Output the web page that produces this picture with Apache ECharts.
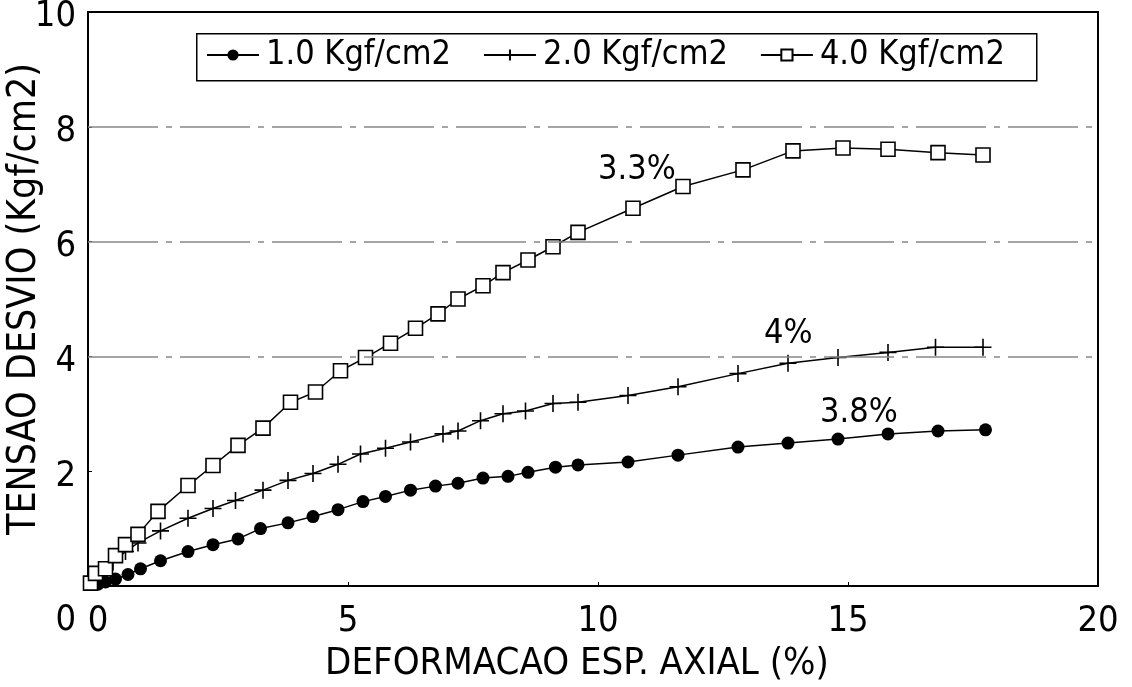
<!DOCTYPE html>
<html>
<head>
<meta charset="utf-8">
<script src="https://cdn.jsdelivr.net/npm/echarts@6/dist/echarts.min.js"></script>
<style>
  html, body { margin: 0; padding: 0; background: #fff; }
  #chart { width: 1132px; height: 687px; }
</style>
</head>
<body>
<div id="chart"></div>
<script>
// deformacao especifica axial (%) x tensao desvio (kgf/cm2)
var names = ['1.0 Kgf/cm2', '2.0 Kgf/cm2', '4.0 Kgf/cm2'];

var strain1 = [0.0, 0.15, 0.35, 0.6, 0.85, 1.25, 1.8, 2.3, 2.8, 3.25, 3.8, 4.3, 4.8, 5.3, 5.75, 6.25, 6.75, 7.2, 7.7, 8.2, 8.6, 9.15, 9.6, 10.6, 11.6, 12.8, 13.8, 14.8, 15.8, 16.8, 17.75];
var stress1 = [0.03, 0.07, 0.12, 0.2, 0.3, 0.44, 0.6, 0.72, 0.82, 1.0, 1.1, 1.21, 1.33, 1.47, 1.56, 1.67, 1.74, 1.79, 1.88, 1.91, 1.98, 2.07, 2.11, 2.16, 2.28, 2.42, 2.49, 2.56, 2.65, 2.7, 2.72];

var strain2 = [0.0, 0.1, 0.3, 0.55, 0.8, 1.25, 1.8, 2.3, 2.75, 3.3, 3.8, 4.3, 4.8, 5.25, 5.75, 6.25, 6.9, 7.2, 7.65, 8.1, 8.55, 9.1, 9.6, 10.6, 11.6, 12.8, 13.8, 14.8, 15.8, 16.75, 17.7];
var stress2 = [0.1, 0.25, 0.42, 0.6, 0.75, 0.96, 1.18, 1.35, 1.49, 1.67, 1.84, 1.96, 2.12, 2.3, 2.4, 2.51, 2.65, 2.7, 2.88, 3.0, 3.05, 3.18, 3.2, 3.32, 3.47, 3.7, 3.88, 3.98, 4.07, 4.16, 4.16];

var strain4 = [-0.15, -0.05, 0.15, 0.35, 0.55, 0.8, 1.2, 1.8, 2.3, 2.8, 3.3, 3.85, 4.35, 4.85, 5.35, 5.85, 6.35, 6.8, 7.2, 7.7, 8.1, 8.6, 9.1, 9.6, 10.7, 11.7, 12.9, 13.9, 14.9, 15.8, 16.8, 17.7];
var stress4 = [0.05, 0.22, 0.3, 0.53, 0.72, 0.9, 1.3, 1.75, 2.1, 2.45, 2.75, 3.2, 3.38, 3.75, 3.98, 4.23, 4.49, 4.74, 5.0, 5.23, 5.46, 5.68, 5.91, 6.16, 6.58, 6.96, 7.25, 7.58, 7.63, 7.61, 7.55, 7.51];

var xTicks = [0, 5, 10, 15, 20];
var refLines = [4, 6, 8];

var FONT = '"Liberation Sans Narrow", "DejaVu Sans Condensed", "DejaVu Sans", sans-serif';

function pairs(xs, ys) {
    var out = [];
    for (var i = 0; i < xs.length; i++) {
        out.push([xs[i], ys[i]]);
    }
    return out;
}

var chart = echarts.init(document.getElementById('chart'));

var option = {
    backgroundColor: '#fff',
    animation: false,
    grid: {
        left: 88, right: 34, top: 12, bottom: 101,
        outerBoundsMode: 'none',
        containLabel: false,
        show: true,
        borderColor: '#000',
        borderWidth: 2
    },
    legend: {
        data: names,
        left: 206,
        top: 38,
        padding: 0,
        itemWidth: 52,
        itemHeight: 14,
        itemGap: 32,
        textStyle: {
            fontFamily: FONT,
            fontSize: 34,
            color: '#000',
            padding: [0, 0, 0, 2]
        }
    },
    xAxis: {
        type: 'value',
        min: -0.2,
        max: 20,
        name: 'DEFORMACAO ESP. AXIAL (%)',
        nameLocation: 'middle',
        nameGap: 59,
        nameMoveOverlap: false,
        nameTextStyle: { fontFamily: FONT, fontSize: 38, color: '#000', padding: [0, 32, 0, 0] },
        axisLine: { show: true, onZero: false, lineStyle: { color: '#000', width: 2 } },
        axisTick: { show: true, inside: true, length: 4, customValues: xTicks, lineStyle: { color: '#000' } },
        axisLabel: {
            customValues: xTicks,
            margin: 18,
            fontFamily: FONT,
            fontSize: 36,
            color: '#000'
        },
        splitLine: { show: false }
    },
    yAxis: {
        type: 'value',
        min: 0,
        max: 10,
        interval: 2,
        name: 'TENSAO DESVIO (Kgf/cm2)',
        nameLocation: 'middle',
        nameGap: 44,
        nameMoveOverlap: false,
        nameTextStyle: { fontFamily: FONT, fontSize: 39, color: '#000' },
        axisLine: { show: true, onZero: false, lineStyle: { color: '#000', width: 2 } },
        axisTick: { show: true, inside: true, length: 4, lineStyle: { color: '#000' } },
        axisLabel: {
            margin: 12,
            fontFamily: FONT,
            fontSize: 36,
            color: '#000',
            formatter: function (v) {
                return v === 0 ? '{low|0}' : '{n|' + v + '}';
            },
            rich: {
                n: { fontFamily: FONT, fontSize: 36, color: '#000', padding: [10, 0, 0, 0] },
                low: { fontFamily: FONT, fontSize: 36, color: '#000', padding: [70, 0, 0, 0] }
            }
        },
        splitLine: { show: false }
    },
    graphic: [
        {
            type: 'rect', left: 196, top: 33, z: 0,
            shape: { width: 840, height: 47 },
            style: { fill: '#fff', stroke: '#000', lineWidth: 1.5 }
        },
        { type: 'text', left: 598, top: 153, style: { text: '3.3%', fontFamily: FONT, fontSize: 34, fill: '#000' } },
        { type: 'text', left: 764, top: 317, style: { text: '4%', fontFamily: FONT, fontSize: 34, fill: '#000' } },
        { type: 'text', left: 820, top: 396, style: { text: '3.8%', fontFamily: FONT, fontSize: 34, fill: '#000' } }
    ],
    series: [
        {
            name: names[0],
            type: 'line',
            data: pairs(strain1, stress1),
            symbol: 'circle',
            symbolSize: 13,
            itemStyle: { color: '#000' },
            lineStyle: { color: '#000', width: 1.5 },
            markLine: {
                silent: true,
                symbol: 'none',
                label: { show: false },
                lineStyle: { color: '#888', width: 1.5, type: [70, 8, 6, 8] },
                data: refLines.map(function (v) { return { yAxis: v }; })
            },
            z: 3
        },
        {
            name: names[1],
            type: 'line',
            data: pairs(strain2, stress2),
            symbol: 'path://M10,0 L10,20 M0,10 L20,10',
            symbolSize: 17,
            itemStyle: { color: '#000', borderColor: '#000', borderWidth: 1.6 },
            lineStyle: { color: '#000', width: 1.5 },
            z: 3
        },
        {
            name: names[2],
            type: 'line',
            data: pairs(strain4, stress4),
            symbol: 'rect',
            symbolSize: 14,
            itemStyle: { color: '#fff', borderColor: '#000', borderWidth: 1.6 },
            lineStyle: { color: '#000', width: 1.5 },
            z: 3
        }
    ]
};

chart.setOption(option);
</script>
</body>
</html>
